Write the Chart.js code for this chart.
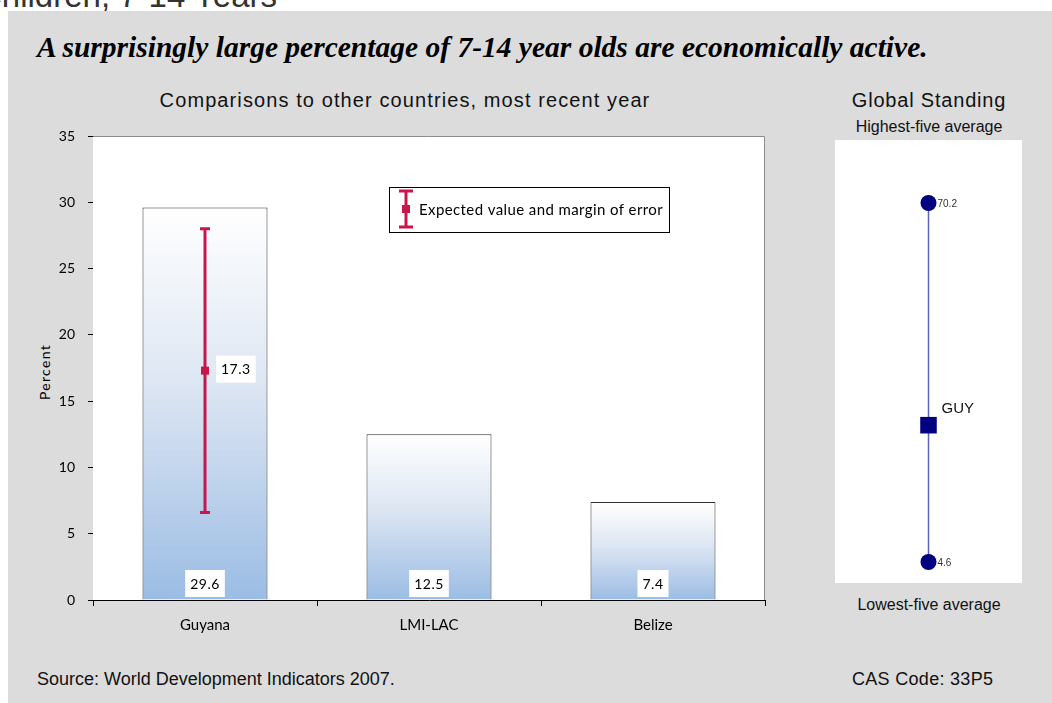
<!DOCTYPE html>
<html>
<head>
<meta charset="utf-8">
<script src="https://cdn.jsdelivr.net/npm/chart.js@4.4.1/dist/chart.umd.min.js"></script>
<style>
  body { margin: 0; width: 1052px; height: 703px; overflow: hidden; background: #fff; position: relative; font-family: "Liberation Sans", Arial, sans-serif; }
  .panel { position: absolute; left: 8px; top: 11px; right: 0; bottom: 0; background: #dcdcdc; }
  .txt { position: absolute; white-space: nowrap; color: #000; }
  #mainChart { position: absolute; left: 0; top: 0; }
  #standChart { position: absolute; left: 835px; top: 140px; }
</style>
</head>
<body>
<div class="txt" style="left:-22px; top:-21px; font-size:33px; line-height:33px; color:#333;">Children, 7-14 Years</div>
<div class="panel"></div>
<div class="txt" style="left:37px; top:31px; font-family:'Liberation Serif','Times New Roman',serif; font-weight:bold; font-style:italic; font-size:29.5px; line-height:32px;">A surprisingly large percentage of 7-14 year olds are economically active.</div>
<div class="txt" style="left:405px; top:89px; transform:translateX(-50%); font-size:20px; line-height:22px; letter-spacing:1.1px; color:#111;">Comparisons to other countries, most recent year</div>
<div class="txt" style="left:929px; top:89px; transform:translateX(-50%); font-size:20px; line-height:22px; letter-spacing:0.8px; color:#111;">Global Standing</div>
<div class="txt" style="left:929px; top:118px; transform:translateX(-50%); font-size:16px; line-height:18px; color:#111;">Highest-five average</div>
<div class="txt" style="left:929px; top:596px; transform:translateX(-50%); font-size:16px; line-height:18px; color:#111;">Lowest-five average</div>
<div class="txt" style="left:37px; top:669px; font-size:18px; line-height:20px; color:#111;">Source: World Development Indicators 2007.</div>
<div class="txt" style="left:852px; top:669px; font-size:18px; line-height:20px; letter-spacing:0.3px; color:#111;">CAS Code: 33P5</div>
<div class="txt" style="left:45px; top:372px; transform:translate(-50%,-50%) rotate(-90deg); font-family:Lato,'Open Sans',sans-serif; font-size:14px; line-height:16px; letter-spacing:1.3px;">Percent</div>

<canvas id="mainChart" width="1052" height="703"></canvas>
<canvas id="standChart" width="187" height="443"></canvas>

<script>
// comparison bars
const countries = ['Guyana', 'LMI-LAC', 'Belize'];
const percentValues = [29.6, 12.5, 7.4];
const yTicks = [0, 5, 10, 15, 20, 25, 30, 35];

// expected value with margin of error (Guyana)
const expectedValue = 17.3;
const errorLow = 6.6;
const errorHigh = 28.0;
const legendText = 'Expected value and margin of error';

// global standing
const highestFive = 70.2;
const lowestFive = 4.6;
const countryCode = 'GUY';
const countryStanding = 29.6;

const gillFont = 'Lato, "Open Sans", sans-serif';
const errColor = '#c8164a';

function labelBox(ctx, text, cx, cy, align) {
  ctx.save();
  ctx.font = '14px ' + gillFont;
  ctx.letterSpacing = '0.5px';
  const w = ctx.measureText(text).width + 10;
  const left = align === 'left' ? cx : cx - w / 2;
  ctx.fillStyle = '#fff';
  ctx.fillRect(left, cy - 13, w, 27);
  ctx.fillStyle = '#000';
  ctx.textAlign = 'center';
  ctx.textBaseline = 'middle';
  ctx.fillText(text, left + w / 2, cy + 1);
  ctx.restore();
}

function errorBar(ctx, x, yTop, yBot, yMid, cap) {
  ctx.save();
  ctx.strokeStyle = errColor;
  ctx.lineWidth = 3;
  ctx.beginPath();
  ctx.moveTo(x, yTop); ctx.lineTo(x, yBot);
  ctx.moveTo(x - cap / 2, yTop); ctx.lineTo(x + cap / 2, yTop);
  ctx.moveTo(x - cap / 2, yBot); ctx.lineTo(x + cap / 2, yBot);
  ctx.stroke();
  ctx.fillStyle = errColor;
  ctx.fillRect(x - 4, yMid - 4, 8, 8);
  ctx.restore();
}

const plotDecor = {
  id: 'plotDecor',
  beforeDatasetsDraw(chart) {
    const { ctx, chartArea: a } = chart;
    ctx.save();
    ctx.fillStyle = '#fff';
    ctx.fillRect(a.left, a.top, a.right - a.left, a.bottom - a.top);
    ctx.strokeStyle = '#8a8a8a';
    ctx.lineWidth = 1;
    ctx.beginPath();
    ctx.moveTo(a.left, a.top + 0.5);
    ctx.lineTo(a.right - 0.5, a.top + 0.5);
    ctx.lineTo(a.right - 0.5, a.bottom);
    ctx.stroke();
    ctx.restore();
  },
  afterDatasetsDraw(chart) {
    const { ctx } = chart;
    const y = chart.scales.y;
    const meta = chart.getDatasetMeta(0);
    meta.data.forEach((bar, i) => {
      labelBox(ctx, percentValues[i].toFixed(1), bar.x, y.getPixelForValue(0) - 17);
    });
    // margin of error on the first bar
    const gx = meta.data[0].x;
    const ym = y.getPixelForValue(expectedValue);
    errorBar(ctx, gx, y.getPixelForValue(errorHigh), y.getPixelForValue(errorLow), ym, 10);
    labelBox(ctx, expectedValue.toFixed(1), gx + 11, ym - 2, 'left');

    // legend
    ctx.save();
    ctx.fillStyle = '#fff';
    ctx.fillRect(389, 187, 280, 45);
    ctx.strokeStyle = '#000';
    ctx.lineWidth = 1;
    ctx.strokeRect(389.5, 187.5, 280, 45);
    ctx.restore();
    errorBar(ctx, 406, 191, 227, 209, 14);
    ctx.save();
    ctx.font = '15px ' + gillFont;
    ctx.letterSpacing = '0.4px';
    ctx.fillStyle = '#000';
    ctx.textBaseline = 'middle';
    ctx.fillText(legendText, 419, 210);
    ctx.restore();
  }
};

new Chart(document.getElementById('mainChart'), {
  type: 'bar',
  data: {
    labels: countries,
    datasets: [{
      data: percentValues,
      borderColor: '#333',
      borderWidth: 1,
      categoryPercentage: 1,
      barPercentage: 0.558,
      backgroundColor: (c) => {
        const chart = c.chart;
        if (!chart.chartArea || c.raw === undefined) return '#c5d6ee';
        const y = chart.scales.y;
        const g = chart.ctx.createLinearGradient(0, y.getPixelForValue(c.raw), 0, y.getPixelForValue(0));
        g.addColorStop(0, '#ffffff');
        g.addColorStop(0.45, '#dde6f3');
        g.addColorStop(1, '#9bbce4');
        return g;
      }
    }]
  },
  options: {
    responsive: false,
    animation: false,
    layout: { padding: { top: 136, right: 287, left: 0, bottom: 0 } },
    plugins: { legend: { display: false }, tooltip: { enabled: false } },
    scales: {
      x: {
        afterFit: (s) => { s.height = 103; },
        grid: { offset: true, drawOnChartArea: false, color: '#000', tickLength: 6 },
        border: { color: '#000' },
        ticks: { color: '#000', padding: 10, font: { family: gillFont, size: 15 } }
      },
      y: {
        min: 0, max: 35,
        afterFit: (s) => { s.width = 93; },
        afterBuildTicks: (s) => { s.ticks = yTicks.map(v => ({ value: v })); },
        grid: { drawOnChartArea: false, color: '#000', tickLength: 5 },
        border: { color: '#000' },
        ticks: { color: '#000', padding: 13, font: { family: gillFont, size: 14 } }
      }
    }
  },
  plugins: [plotDecor]
});

// standing panel: bounds put the two averages at fixed spots inside the box
const pxPerUnit = (422 - 63) / (highestFive - lowestFive);
const standMax = highestFive + 63 / pxPerUnit;
const standMin = lowestFive - (443 - 422) / pxPerUnit;

const standLabels = {
  id: 'standLabels',
  afterDatasetsDraw(chart) {
    const { ctx } = chart;
    const xs = chart.scales.x, ys = chart.scales.y;
    const px = xs.getPixelForValue(1);
    ctx.save();
    ctx.fillStyle = '#333';
    ctx.textBaseline = 'middle';
    ctx.font = '10px "Liberation Sans", Arial, sans-serif';
    ctx.fillText(highestFive.toFixed(1), px + 9, ys.getPixelForValue(highestFive) + 1);
    ctx.fillText(lowestFive.toFixed(1), px + 9, ys.getPixelForValue(lowestFive) + 1);
    ctx.fillStyle = '#111';
    ctx.font = '15px "Liberation Sans", Arial, sans-serif';
    ctx.fillText(countryCode, px + 13, ys.getPixelForValue(countryStanding) - 16);
    ctx.restore();
  }
};

new Chart(document.getElementById('standChart'), {
  type: 'scatter',
  data: {
    datasets: [{
      data: [{ x: 1, y: countryStanding }],
      pointStyle: 'rect',
      pointRadius: 11.7,
      pointBackgroundColor: '#000080',
      pointBorderWidth: 0
    }, {
      data: [{ x: 1, y: highestFive }, { x: 1, y: lowestFive }],
      showLine: true,
      borderColor: '#5b63b7',
      borderWidth: 1.5,
      pointRadius: 8,
      pointBackgroundColor: '#000080',
      pointBorderWidth: 0
    }]
  },
  options: {
    responsive: false,
    animation: false,
    layout: { padding: 0, autoPadding: false },
    plugins: { legend: { display: false }, tooltip: { enabled: false } },
    scales: {
      x: { display: false, min: 0, max: 2 },
      y: { display: false, min: standMin, max: standMax }
    }
  },
  plugins: [{
    id: 'whiteBox',
    beforeDraw(chart) {
      const { ctx, width, height } = chart;
      ctx.save();
      ctx.fillStyle = '#fff';
      ctx.fillRect(0, 0, width, height);
      ctx.restore();
    }
  }, standLabels]
});
</script>
</body>
</html>
